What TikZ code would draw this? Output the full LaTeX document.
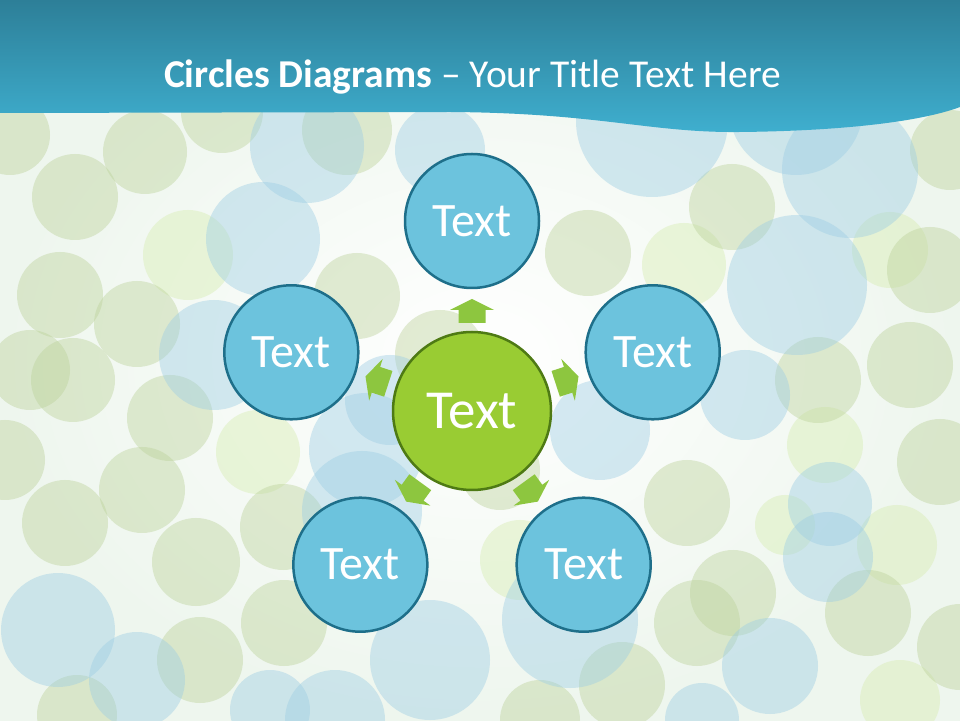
\documentclass[tikz,border=0pt]{standalone}
\usepackage{fontspec}
\setmainfont{Carlito}
\usetikzlibrary{calc}
\definecolor{gcirc}{HTML}{BCD29A}
\definecolor{bcirc}{HTML}{9CCDE4}
\definecolor{lcirc}{HTML}{D8EDB4}
\definecolor{outerfill}{HTML}{6CC3DD}
\definecolor{outerline}{HTML}{1E6F8A}
\definecolor{centerfill}{HTML}{99CC33}
\definecolor{centerline}{HTML}{4E7A14}
\definecolor{arrowfill}{HTML}{8DC63F}
\definecolor{bandtop}{HTML}{2D7F98}
\definecolor{bandbot}{HTML}{3FAFCF}
\definecolor{bgedge}{HTML}{EEF6EE}
\tikzset{
  outercircle/.style={circle, draw=outerline, fill=outerfill, line width=2.5pt,
    minimum size=134pt, inner sep=0pt, text=white, font=\fontsize{48}{56}\selectfont},
  centercircle/.style={circle, draw=centerline, fill=centerfill, line width=2.5pt,
    minimum size=158pt, inner sep=0pt, text=white, font=\fontsize{55}{64}\selectfont},
  gbub/.style={fill=gcirc, opacity=0.42},
  bbub/.style={fill=bcirc, opacity=0.42},
  lbub/.style={fill=lcirc, opacity=0.45},
  blockarrow/.style={fill=arrowfill}
}
\begin{document}
\begin{tikzpicture}[x=1pt,y=1pt]
\useasboundingbox (0,0) rectangle (960,720);
\shade[inner color=white, outer color=bgedge] (0,0) rectangle (960,720);
% background bubbles (x, y from top, radius)
\foreach \cx/\cy/\r in {188/255/45, 258/452/42, 684/265/42, 890/250/38, 825/445/38, 785/525/30, 897/545/40, 900/700/40, 520/560/40}
  \fill[lbub] (\cx,{720-\cy}) circle[radius=\r];
\foreach \cx/\cy/\r in {10/135/40, 145/152/42, 75/197/43, 222/112/41, 347/130/45, 60/295/43, 137/324/43, 357/296/43, 30/370/40, 73/380/42, 170/418/43, 5/460/40, 142/490/43, 65/523/43, 196/562/44, 283/527/43, 284/623/43, 200/660/43, 77/715/40, 950/150/40, 732/207/43, 588/253/43, 930/270/43, 910/365/43, 818/380/43, 940/462/43, 687/503/43, 868/613/43, 697/623/43, 733/593/43, 960/647/43, 622/685/43, 540/720/40, 440/355/45, 500/470/40}
  \fill[gbub] (\cx,{720-\cy}) circle[radius=\r];
\foreach \cx/\cy/\r in {307/146/57, 440/150/45, 263/239/57, 214/355/55, 390/400/45, 366/450/57, 362/511/60, 58/630/57, 137/680/48, 430/660/60, 270/710/40, 335/720/50, 652/121/76, 796/108/67, 850/170/68, 797/285/70, 745/395/45, 830/504/42, 828/557/45, 770/666/48, 570/620/68, 702/720/37, 600/430/50}
  \fill[bbub] (\cx,{720-\cy}) circle[radius=\r];
% header band
\shade[top color=bandtop, bottom color=bandbot]
  (0,720) -- (960,720) -- (960,613)
  .. controls (920,598) and (840,589) .. (740,588)
  .. controls (650,587) and (600,607) .. (450,608)
  -- (0,607) -- cycle;
\node[text=white, anchor=base, font=\fontsize{39.5}{46}\selectfont] (title) at (472.5,632)
  {\textbf{Circles Diagrams} – Your Title Text Here};
% diagram
\node[centercircle] (c) at (472,309) {Text};
\node[outercircle] (t)  at ([shift={(90:190)}]c.center)  {Text};
\node[outercircle] (l)  at ([shift={(162:190)}]c.center) {Text};
\node[outercircle] (r)  at ([shift={(18:190)}]c.center)  {Text};
\node[outercircle] (bl) at ([shift={(234:190)}]c.center) {Text};
\node[outercircle] (br) at ([shift={(306:190)}]c.center) {Text};
\foreach \a in {90,162,18,234,306}{
  \begin{scope}[shift={(c.center)}, rotate=\a]
    \fill[blockarrow] (88,-13.5) -- (101,-13.5) -- (101,-22) -- (112,0)
      -- (101,22) -- (101,13.5) -- (88,13.5) -- cycle;
  \end{scope}
}
\end{tikzpicture}
\end{document}
